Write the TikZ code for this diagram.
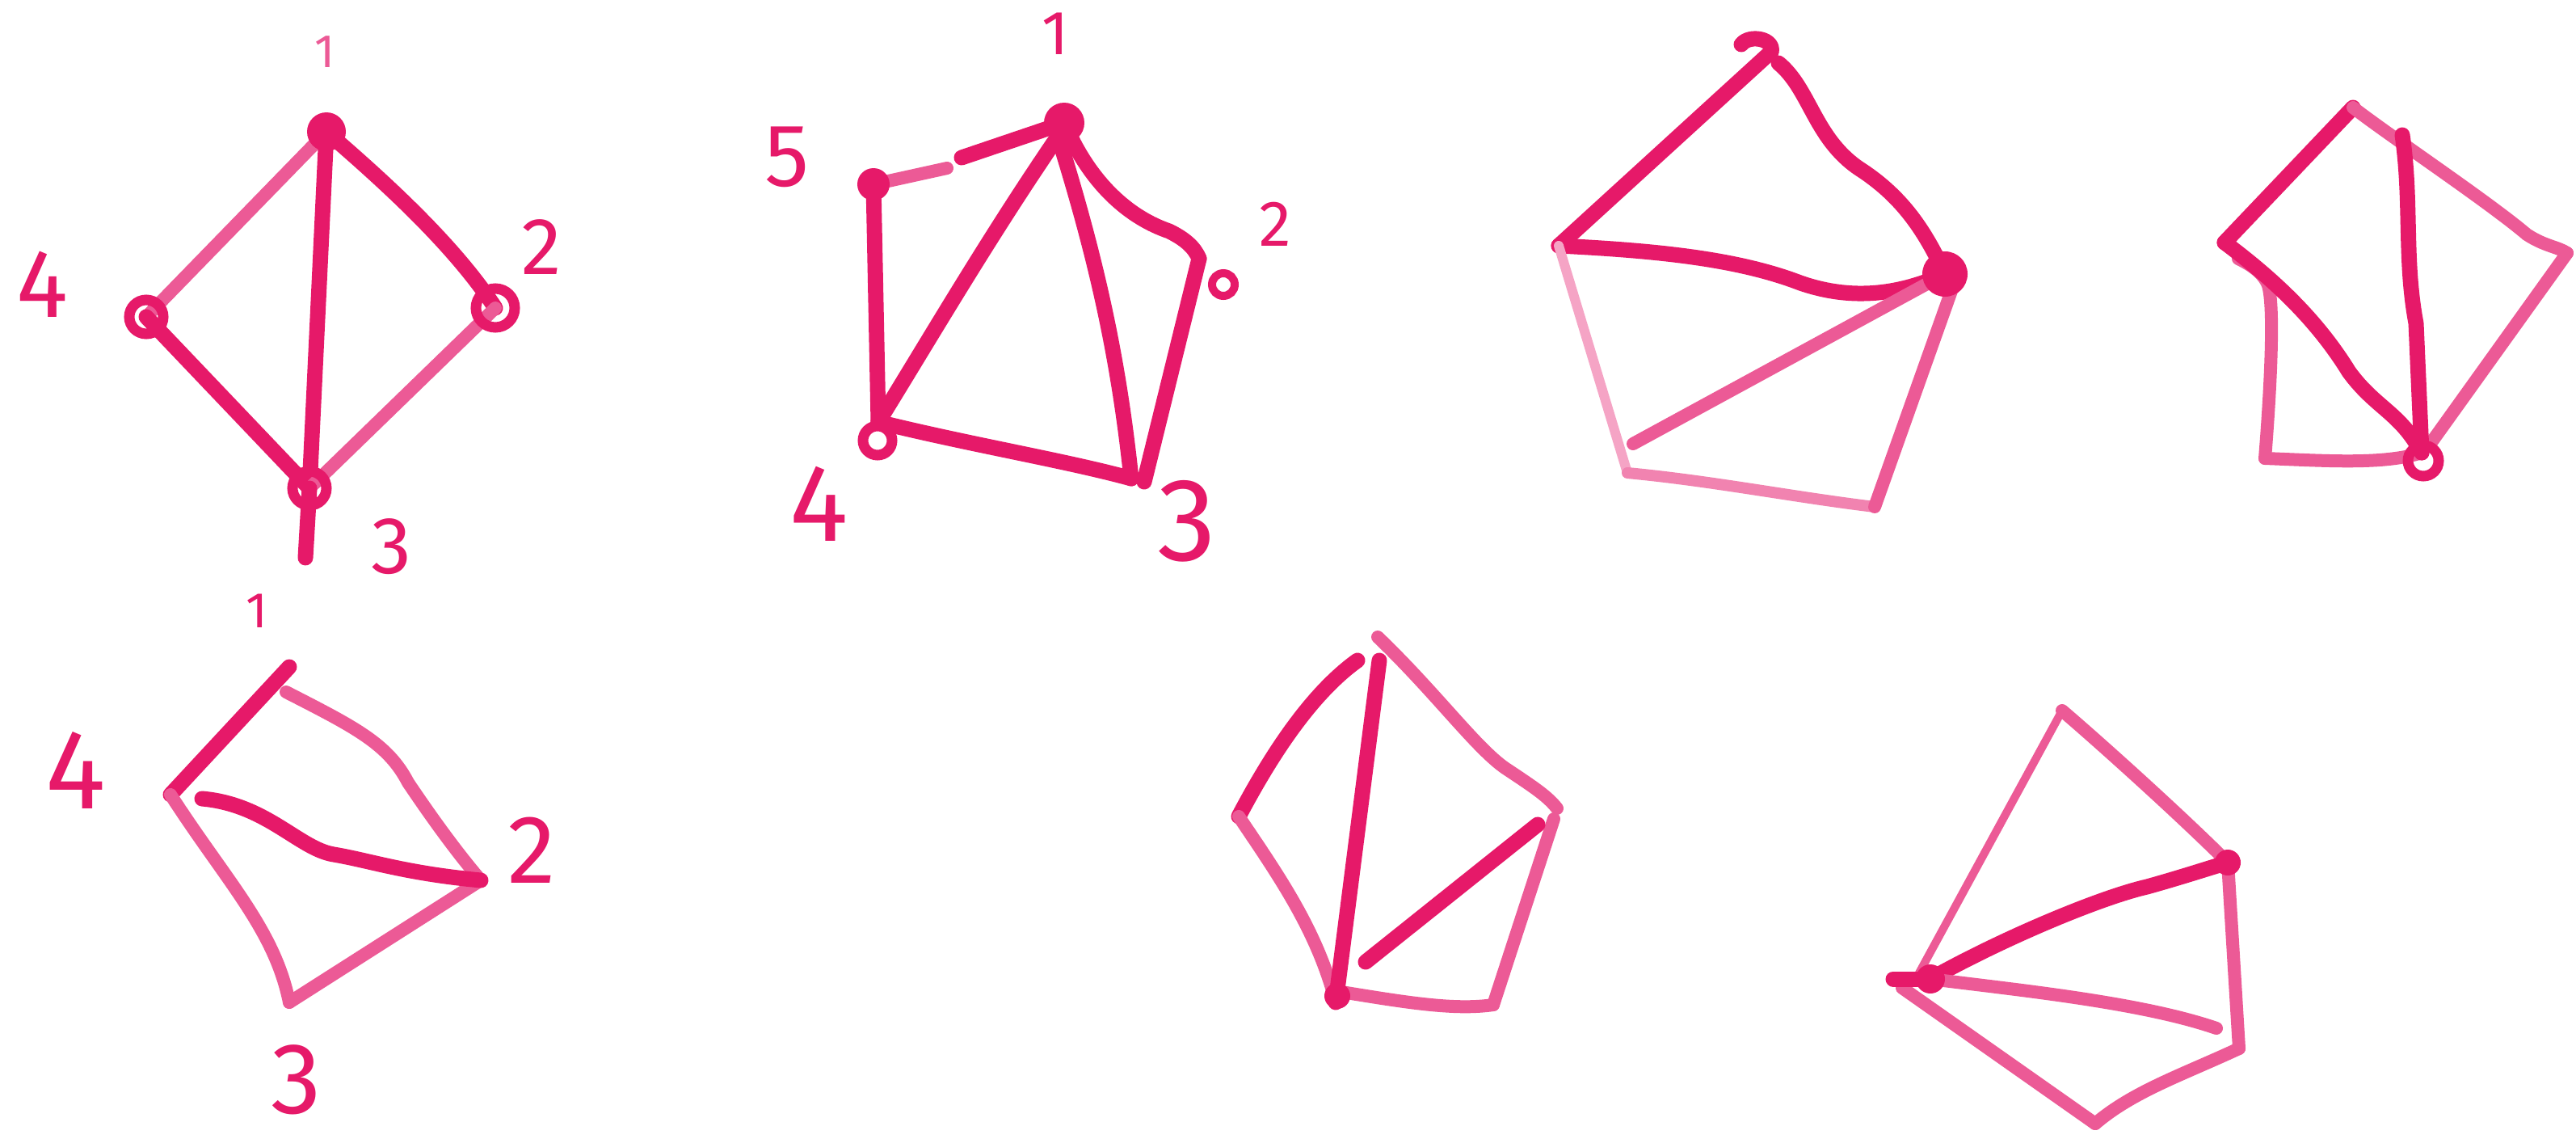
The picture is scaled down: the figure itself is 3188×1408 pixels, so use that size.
\documentclass[tikz,border=0pt]{standalone}
\usepackage{fontspec}
\setsansfont{Fira Sans}
\definecolor{ink}{RGB}{230,25,105}
\definecolor{inklt}{RGB}{236,90,150}
\begin{document}
\begin{tikzpicture}[x=1pt,y=-1pt,
  ed/.style={draw=ink, line width=19pt, line cap=round, line join=round},
  lt/.style={draw=inklt, line width=16pt, line cap=round, line join=round},
  ring/.style={draw=ink, line width=13pt},
  blob/.style={fill=ink},
  dig/.style={text=ink, inner sep=0pt, font=\sffamily\fontsize{#1}{#1}\selectfont},
  sdig/.style={text=inklt, inner sep=0pt, font=\sffamily\fontsize{#1}{#1}\selectfont}]
\useasboundingbox (0,0) rectangle (3188,1408);
\fill[white] (0,0) rectangle (3188,1408);

% ---------- top-left quadrilateral ----------
\coordinate (a1) at (404,163);
\coordinate (a2) at (613,381);
\coordinate (a3) at (383,604);
\coordinate (a4) at (181,392);
\coordinate (a3t) at (378,690);
\draw[lt] (a1) -- (a4);
\draw[ed] (a1) .. controls (470,220) and (560,300) .. (a2);
\draw[ed] (a1) -- (a3);
\draw[ed] (a4) -- (a3);
\draw[lt] (a3) -- (a2);
\draw[ed] (a3) -- (a3t);
\draw[ring] (a4) circle (21);
\draw[ring] (a2) circle (24);
\draw[ring] (a3) circle (21);
\fill[blob] (a1) circle (24);
\node[sdig=58] (la1) at (402,64) {1};
\node[dig=100] (la2) at (670,306) {2};
\node[dig=100] (la3) at (484,676) {3};
\node[dig=120] (la4) at (52,352) {4};

% ---------- bottom-left quadrilateral ----------
\coordinate (b1) at (358,825);
\coordinate (b4) at (211,983);
\coordinate (b2) at (595,1089);
\coordinate (b3) at (358,1240);
\coordinate (bd) at (250,988);
\draw[ed] (b4) -- (b1);
\draw[lt] (354,856) .. controls (440,900) and (480,920) .. (505,968) .. controls (540,1020) and (570,1060) .. (b2);
\draw[lt] (b4) .. controls (280,1090) and (340,1150) .. (b3);
\draw[lt] (b3) -- (b2);
\draw[ed] (bd) .. controls (330,995) and (370,1050) .. (413,1057) .. controls (460,1065) and (500,1080) .. (b2);
\node[dig=62] (lb1) at (318,756) {1};
\node[dig=140] (lb4) at (94,953) {4};
\node[dig=120] (lb2) at (658,1052) {2};
\node[dig=125] (lb3) at (367,1336) {3};

% ---------- pentagon with labels ----------
\coordinate (p1) at (1317,152);
\coordinate (p5) at (1081,228);
\coordinate (p2) at (1484,320);
\coordinate (p3) at (1400,592);
\coordinate (p4) at (1087,522);
\draw[lt] (p5) -- (1172,208);
\draw[ed] (1190,195) -- (p1);
\draw[ed] (p1) .. controls (1350,230) and (1400,270) .. (1447,286) .. controls (1465,295) and (1478,305) .. (p2);
\draw[ed] (p2) -- (1416,596);
\draw[ed] (p4) .. controls (1200,550) and (1320,570) .. (p3);
\draw[ed] (p4) -- (p5);
\draw[ed] (1305,175) .. controls (1220,300) and (1150,420) .. (p4);
\draw[ed] (1310,170) .. controls (1360,330) and (1385,450) .. (p3);
\fill[blob] (p1) circle (25);
\fill[blob] (p5) circle (20);
\draw[ring] (1086,545) circle (18);
\draw[draw=ink, line width=10pt] (1514,352) circle (14);
\node[dig=77] (lp1) at (1306,42) {1};
\node[dig=110] (lp5) at (974,194) {5};
\node[dig=80] (lp2) at (1578,277) {2};
\node[dig=136] (lp4) at (1014,623) {4};
\node[dig=146] (lp3) at (1469,645) {3};

% ---------- top-right pentagon ----------
\coordinate (q1) at (2192,64);
\coordinate (q2) at (1929,304);
\coordinate (q3) at (2407,339);
\coordinate (q4) at (2320,627);
\coordinate (q5) at (2014,585);
\coordinate (q5d) at (2021,549);
\draw[ed] (q2) -- (q1);
\draw[ed] (q1) .. controls (2196,48) and (2165,42) .. (2155,55);
\draw[ed] (2201,78) .. controls (2240,110) and (2245,170) .. (2300,208) .. controls (2350,240) and (2380,280) .. (q3);
\draw[ed] (q2) .. controls (2050,310) and (2150,320) .. (2228,350) .. controls (2300,375) and (2360,360) .. (q3);
\draw[lt] (q3) -- (q5d);
\draw[draw=inklt!55, line width=12pt, line cap=round] (q2) -- (q5);
\draw[draw=inklt!75, line width=14pt, line cap=round] (q5) .. controls (2120,595) and (2220,615) .. (q4);
\draw[lt] (2416,357) -- (q4);
\fill[blob] (q3) circle (28);

% ---------- far-right pentagon ----------
\coordinate (r1) at (2912,133);
\coordinate (r2) at (2753,300);
\coordinate (r3) at (3177,313);
\coordinate (r4) at (2997,560);
\coordinate (r5) at (2803,567);
\coordinate (r6) at (2973,167);
\draw[ed] (r2) -- (r1);
\draw[lt] (r1) .. controls (2960,170) and (3080,250) .. (3127,290) .. controls (3150,305) and (3165,305) .. (r3);
\draw[lt] (r3) -- (3007,550);
\draw[lt] (r5) .. controls (2880,570) and (2950,575) .. (r4);
\draw[lt] (r5) .. controls (2810,480) and (2815,380) .. (2807,353) .. controls (2800,335) and (2780,325) .. (2770,320);
\draw[ed] (r2) .. controls (2820,350) and (2870,400) .. (2907,460) .. controls (2940,505) and (2970,510) .. (r4);
\draw[ed] (r6) .. controls (2985,250) and (2975,320) .. (2990,400) -- (r4);
\draw[ring] (2999,570) circle (19);

% ---------- bottom-middle pentagon ----------
\coordinate (s1) at (1705,788);
\coordinate (s2) at (1533,1010);
\coordinate (s3) at (1927,1000);
\coordinate (s4) at (1848,1243);
\coordinate (s5) at (1653,1240);
\draw[ed] (1680,817) .. controls (1620,860) and (1570,940) .. (s2);
\draw[lt] (s2) .. controls (1580,1080) and (1630,1150) .. (s5);
\draw[lt] (s1) .. controls (1780,860) and (1830,930) .. (1867,953) .. controls (1900,975) and (1915,985) .. (s3);
\draw[lt] (1923,1013) -- (s4);
\draw[lt] (1660,1227) .. controls (1740,1240) and (1800,1250) .. (s4);
\draw[ed] (s5) -- (1707,817);
\draw[ed] (1690,1190) -- (1903,1020);
\fill[blob] (1655,1232) circle (16);

% ---------- bottom-right pentagon ----------
\coordinate (t1) at (2552,879);
\coordinate (t2) at (2757,1067);
\coordinate (t3) at (2771,1297);
\coordinate (t4) at (2593,1390);
\coordinate (t5) at (2343,1211);
\coordinate (th) at (2389,1211);
\coordinate (td) at (2743,1272);
\draw[draw=inklt, line width=10pt, line cap=round] (t1) -- (2371,1211);
\draw[lt] (t1) .. controls (2600,920) and (2700,1010) .. (t2);
\draw[ed] (th) .. controls (2480,1160) and (2600,1110) .. (2657,1097) .. controls (2700,1085) and (2730,1075) .. (t2);
\draw[lt] (th) .. controls (2500,1225) and (2650,1240) .. (td);
\draw[lt] (t2) -- (t3);
\draw[lt] (t3) .. controls (2700,1330) and (2640,1350) .. (t4);
\draw[lt] (2354,1222) -- (t4);
\draw[ed] (t5) -- (th);
\fill[blob] (th) circle (18);
\fill[blob] (t2) circle (16);
\end{tikzpicture}
\end{document}
